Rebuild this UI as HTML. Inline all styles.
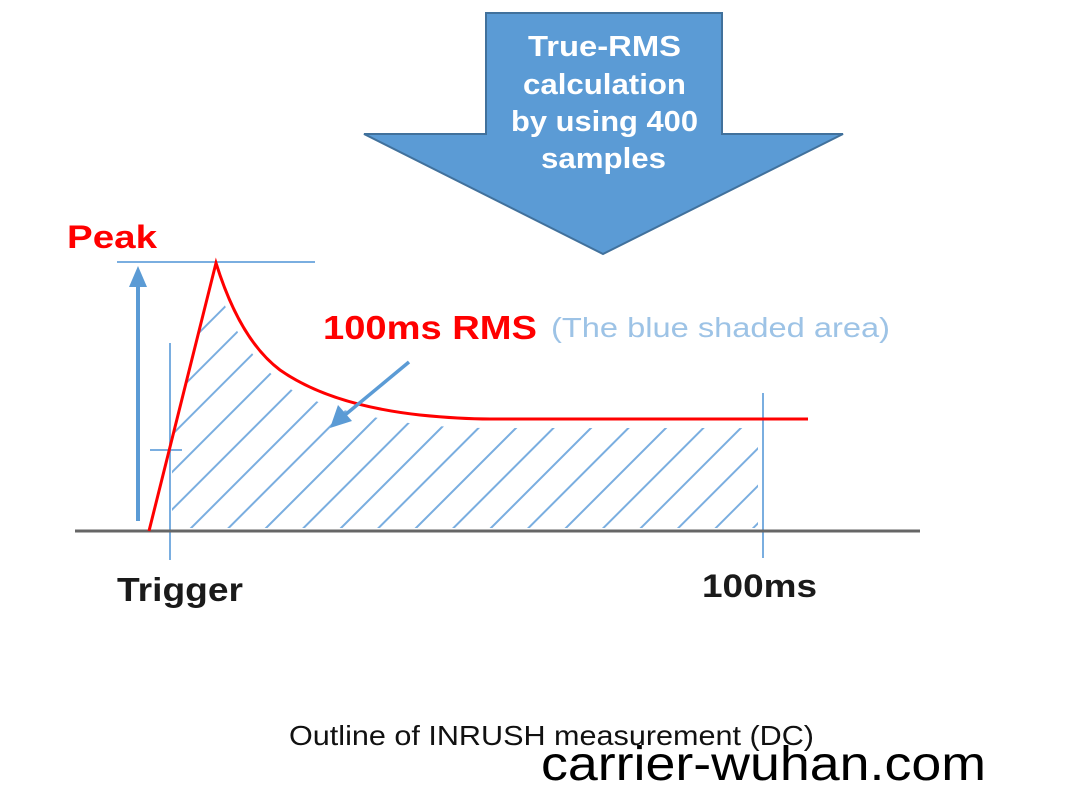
<!DOCTYPE html>
<html><head><meta charset="utf-8"><style>html,body{margin:0;padding:0;background:#fff;}svg{display:block}</style></head>
<body>
<svg width="1080" height="810" viewBox="0 0 1080 810" xmlns="http://www.w3.org/2000/svg">
<defs>
<pattern id="h" patternUnits="userSpaceOnUse" width="26.5" height="20" patternTransform="rotate(45)">
<line x1="5" y1="-5" x2="5" y2="25" stroke="#7aaee0" stroke-width="2"/>
</pattern>
<clipPath id="c">
<path d="M172,528 L172,440 L205,300 L218,285 Q240,360 300,395 Q380,428 490,428 L758,428 L758,528 Z"/>
</clipPath>
</defs>
<path d="M486,13 L722,13 L722,134 L843,134 L603,254 L364,134 L486,134 Z" fill="#5b9bd5" stroke="#41719c" stroke-width="2"/>
<g font-family="Liberation Sans, sans-serif" font-weight="bold" font-size="29" fill="#fff" lengthAdjust="spacingAndGlyphs">
<text x="528" y="56" textLength="153" lengthAdjust="spacingAndGlyphs">True-RMS</text>
<text x="523" y="94" textLength="163" lengthAdjust="spacingAndGlyphs">calculation</text>
<text x="511" y="131" textLength="187" lengthAdjust="spacingAndGlyphs">by using 400</text>
<text x="541" y="168" textLength="125" lengthAdjust="spacingAndGlyphs">samples</text>
</g>
<rect x="160" y="270" width="610" height="270" fill="url(#h)" clip-path="url(#c)"/>
<line x1="117" y1="262" x2="315" y2="262" stroke="#7aaee0" stroke-width="2"/>
<line x1="170" y1="343" x2="170" y2="560" stroke="#7aaee0" stroke-width="2"/>
<line x1="150" y1="450" x2="182" y2="450" stroke="#7aaee0" stroke-width="2"/>
<line x1="763" y1="393" x2="763" y2="558" stroke="#7aaee0" stroke-width="2"/>
<line x1="138" y1="521" x2="138" y2="285" stroke="#5b9bd5" stroke-width="4"/>
<path d="M129,287 L138,266 L147,287 Z" fill="#5b9bd5"/>
<line x1="75" y1="531" x2="920" y2="531" stroke="#666" stroke-width="3"/>
<path d="M149,531 L216,263 Q240,340 280,370 Q330,405 420,415 Q460,419 490,419 L808,419" fill="none" stroke="#f00" stroke-width="3"/>
<line x1="409" y1="362" x2="345" y2="415" stroke="#5b9bd5" stroke-width="3.5"/>
<path d="M330,428 L338,405 L352,421 Z" fill="#5b9bd5"/>
<g font-family="Liberation Sans, sans-serif" font-weight="bold">
<text x="67" y="248" font-size="32" fill="#f00" textLength="90" lengthAdjust="spacingAndGlyphs">Peak</text>
<text x="323" y="339" font-size="33" fill="#f00" textLength="214" lengthAdjust="spacingAndGlyphs">100ms RMS</text>
<text x="117" y="601" font-size="33" fill="#1a1a1a" textLength="126" lengthAdjust="spacingAndGlyphs">Trigger</text>
<text x="702" y="597" font-size="32" fill="#1a1a1a" textLength="115" lengthAdjust="spacingAndGlyphs">100ms</text>
</g>
<text x="551" y="337" font-family="Liberation Sans, sans-serif" font-size="28" fill="#9dc3e6" textLength="339" lengthAdjust="spacingAndGlyphs">(The blue shaded area)</text>
<text x="289" y="745" font-family="Liberation Sans, sans-serif" font-size="28" fill="#111" textLength="525" lengthAdjust="spacingAndGlyphs">Outline of INRUSH measurement (DC)</text>
<text x="541" y="780" font-family="Liberation Sans, sans-serif" font-size="48" fill="#000" textLength="445" lengthAdjust="spacingAndGlyphs">carrier-wuhan.com</text>
</svg>
</body></html>
